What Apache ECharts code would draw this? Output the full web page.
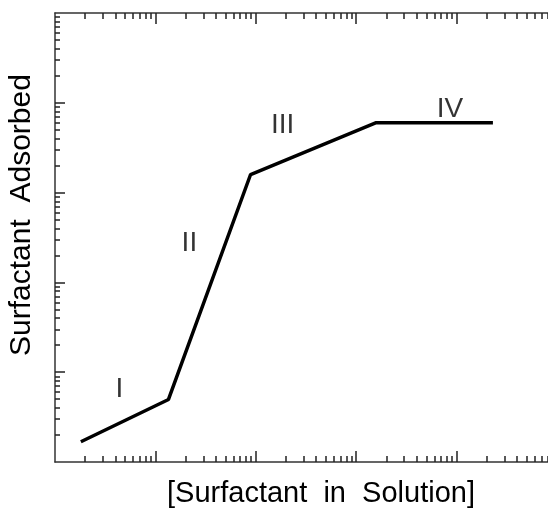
<!DOCTYPE html>
<html>
<head>
    <meta charset="UTF-8">
    <title>Surfactant adsorption isotherm</title>
    <script src="https://cdn.jsdelivr.net/npm/echarts@6/dist/echarts.min.js"></script>
    <style>
        html, body { margin: 0; padding: 0; background: #fff; }
    </style>
</head>
<body>
<div id="chart" style="width: 548px; height: 509px;"></div>
<script>
    // isotherm corners
    var concentration = [1.81, 13.5, 88.7, 1560, 23000];
    var adsorbed = [1.68, 4.97, 1590, 5990, 5990];

    // region labels and where they sit (data space)
    var regionNames = ['I', 'II', 'III', 'IV'];
    var regionX = [4.37, 21.8, 185, 8590];
    var regionY = [6.93, 293, 6040, 9100];

    var majorTicks = [10, 100, 1000, 10000];
    var minorSteps = [2, 3, 4, 5, 6, 7, 8, 9];

    var axisMin = 1;
    var axisMax = 100000;

    var font = "'Liberation Sans', Arial, Helvetica, sans-serif";

    // 2..9 inside every decade
    var minorTicks = [];
    [1, 10, 100, 1000, 10000].forEach(function (d) {
        minorSteps.forEach(function (s) { minorTicks.push(s * d); });
    });

    var lineData = concentration.map(function (x, i) { return [x, adsorbed[i]]; });
    var labelData = regionNames.map(function (n, i) {
        return { name: n, value: [regionX[i], regionY[i]] };
    });

    function logAxis(position, ticks, len, showLine) {
        return {
            type: 'log',
            logBase: 10,
            min: axisMin,
            max: axisMax,
            position: position,
            axisLine: { show: showLine, onZero: false, lineStyle: { color: '#333', width: 1.5 } },
            axisTick: {
                show: true,
                inside: true,
                length: len,
                customValues: ticks,
                lineStyle: { color: '#222', width: 1.5 }
            },
            axisLabel: { show: false },
            splitLine: { show: false },
            minorTick: { show: false },
            minorSplitLine: { show: false }
        };
    }

    var myChart = echarts.init(document.getElementById('chart'), null, { renderer: 'canvas' });

    var option = {
        animation: false,
        backgroundColor: '#fff',
        grid: {
            left: 55,
            top: 13,
            width: 502,
            height: 449,
            containLabel: false,
            outerBoundsMode: 'none'
        },
        xAxis: [
            logAxis('bottom', majorTicks, 11, true),
            logAxis('bottom', minorTicks, 6, false),
            logAxis('top', majorTicks, 11, true),
            logAxis('top', minorTicks, 6, false)
        ],
        yAxis: [
            logAxis('left', majorTicks, 10, true),
            logAxis('left', minorTicks, 5, false),
            logAxis('right', majorTicks, 9, false)
        ],
        graphic: [
            {
                type: 'text',
                x: 22,
                y: 215,
                rotation: Math.PI / 2,
                style: {
                    text: 'Surfactant  Adsorbed',
                    font: '30px ' + font,
                    fill: '#000',
                    align: 'center',
                    verticalAlign: 'middle'
                }
            },
            {
                type: 'text',
                x: 321,
                y: 494,
                style: {
                    text: '[Surfactant  in  Solution]',
                    font: '29px ' + font,
                    fill: '#000',
                    align: 'center',
                    verticalAlign: 'middle'
                }
            }
        ],
        series: [
            {
                type: 'line',
                xAxisIndex: 0,
                yAxisIndex: 0,
                data: lineData,
                showSymbol: false,
                symbol: 'none',
                silent: true,
                lineStyle: { color: '#000', width: 3.5 }
            },
            {
                type: 'scatter',
                xAxisIndex: 0,
                yAxisIndex: 0,
                data: labelData,
                symbolSize: 0,
                silent: true,
                label: {
                    show: true,
                    position: 'inside',
                    offset: [0, 3],
                    formatter: '{b}',
                    color: '#000',
                    fontSize: 28,
                    fontFamily: font
                }
            }
        ]
    };

    myChart.setOption(option);
</script>
</body>
</html>
